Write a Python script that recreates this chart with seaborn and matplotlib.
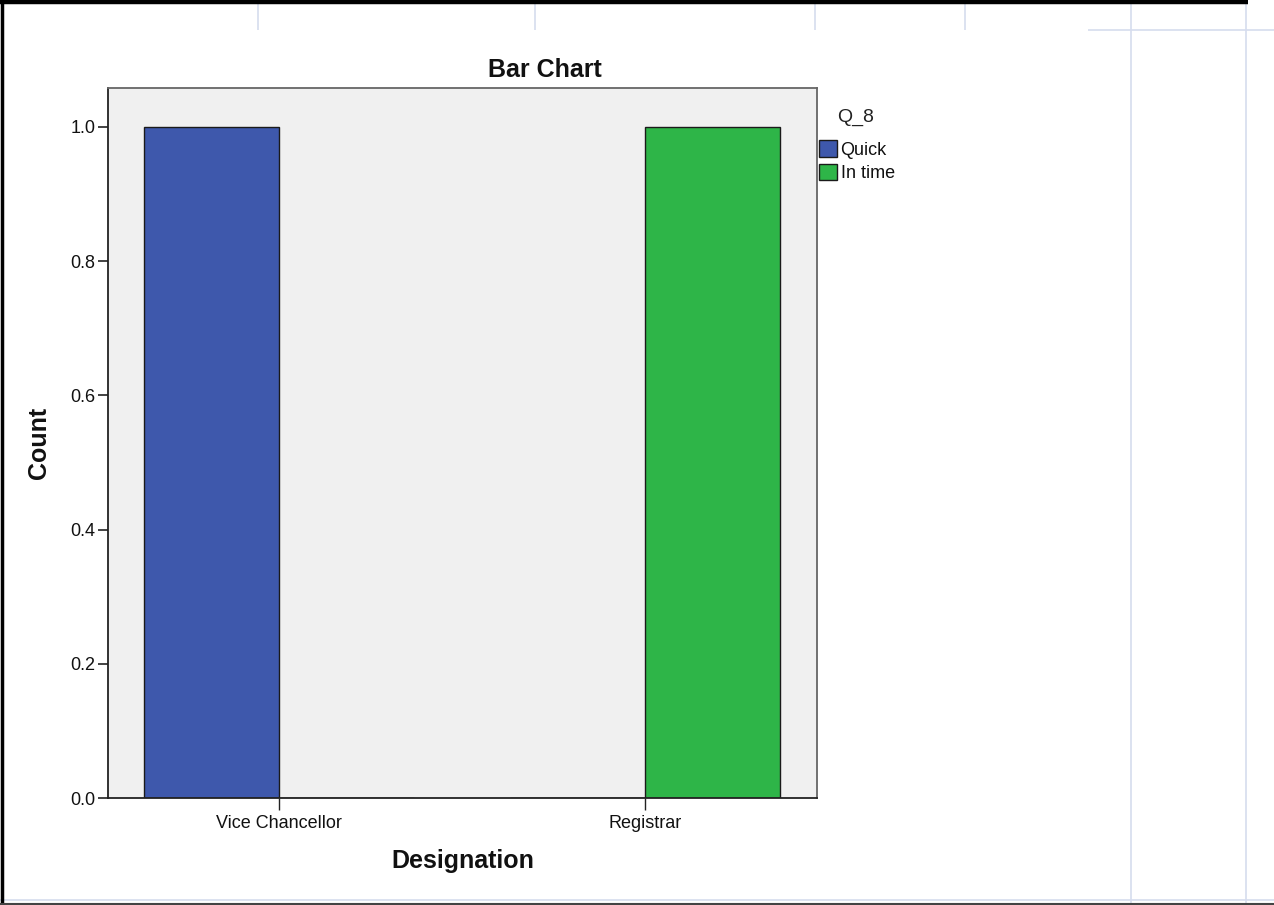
import matplotlib
matplotlib.use("Agg")
import matplotlib.pyplot as plt
import seaborn as sns
import pandas as pd
from matplotlib.lines import Line2D

designations = ["Vice Chancellor", "Registrar"]
q8_levels = ["Quick", "In time"]
quick_counts = [1, 0]
intime_counts = [0, 1]
y_ticks = [0.0, 0.2, 0.4, 0.6, 0.8, 1.0]

df = pd.DataFrame({
    "Designation": designations * 2,
    "Q_8": [q8_levels[0]] * 2 + [q8_levels[1]] * 2,
    "Count": quick_counts + intime_counts,
})

sns.set_theme(style="white")
plt.rcParams['font.family'] = ['Liberation Sans', 'DejaVu Sans']

W, H = 1274, 905
fig = plt.figure(figsize=(W / 100, H / 100), dpi=100)
fig.patch.set_facecolor("white")

ax = fig.add_axes([108 / W, 1 - 798 / H, (817 - 108) / W, (798 - 88) / H])
ax.set_facecolor("#F0F0F0")

palette = {"Quick": "#3E58AC", "In time": "#2EB548"}
sns.barplot(data=df, x="Designation", y="Count", hue="Q_8", order=designations,
            hue_order=q8_levels, palette=palette, width=0.738, edgecolor="#1a1a1a",
            linewidth=1.0, saturation=1, ax=ax)

ax.set_xlim(-0.467, 1.470)
ax.set_ylim(0, 1.058)
ax.set_yticks(y_ticks)
ax.set_yticklabels([f"{v:.1f}" for v in y_ticks], fontsize=13)
for t in ax.get_xticklabels():
    t.set_fontsize(13)
ax.tick_params(axis="y", direction="out", length=7.5, width=1.2, color="#222222", pad=1.5, labelcolor="#111111")
ax.tick_params(axis="x", direction="out", length=8.5, width=1.0, color="#222222", pad=4, labelcolor="#111111")
ax.tick_params(left=True, bottom=True)

for side, sp in ax.spines.items():
    sp.set_visible(True)
    sp.set_linewidth(1.3)
    sp.set_color("#666666" if side in ("top", "right") else "#222222")

ax.set_title("Bar Chart", fontsize=18, fontweight="bold", x=(545 - 108) / 709,
             y=(798 - 77) / 710, pad=0, va="baseline", color="#111111")
ax.set_xlabel("Designation", fontsize=18, fontweight="bold", color="#111111")
ax.set_ylabel("Count", fontsize=18, fontweight="bold", color="#111111")
ax.xaxis.set_label_coords(0.5, (798 - 848.5) / 710)
ax.yaxis.set_label_coords((51 - 108) / 709, 0.5)

handles, labels = ax.get_legend_handles_labels()
leg = ax.legend(handles, labels, title="Q_8", loc="upper left",
                bbox_to_anchor=(818.5 / W, 1 - 118.4 / H), bbox_transform=fig.transFigure,
                frameon=False, fontsize=13, title_fontsize=14,
                handlelength=1.0, handleheight=1.0, handletextpad=0.22,
                labelspacing=0.27, borderaxespad=0, borderpad=0)
leg._legend_box.align = "left"
for p in leg.get_patches():
    p.set_edgecolor("#1a1a1a")
    p.set_linewidth(1.0)
for t in leg.get_texts():
    t.set_color("#111111")
leg.get_title().set_color("#222222")
leg.get_title().set_position((18.5, 10))

def hline(y, x0, x1, color, lw):
    fig.add_artist(Line2D([x0 / W, x1 / W], [1 - y / H, 1 - y / H], color=color, lw=lw,
                          transform=fig.transFigure, solid_capstyle="butt"))

def vline(x, y0, y1, color, lw):
    fig.add_artist(Line2D([x / W, x / W], [1 - y0 / H, 1 - y1 / H], color=color, lw=lw,
                          transform=fig.transFigure, solid_capstyle="butt"))

grid_c = "#D6DDEE"
for xv in [258, 535, 815, 965]:
    vline(xv, 0, 30, grid_c, 1.2)
vline(1131, 0, 905, grid_c, 1.2)
vline(1246, 0, 905, grid_c, 1.2)
hline(30.5, 1088, 1274, grid_c, 1.2)
hline(900, 0, 1274, grid_c, 1.2)
hline(2, 0, 1248, "black", 3.2)
vline(2, 0, 905, "black", 2.5)
hline(904, 0, 1274, "#444444", 1.5)

fig.savefig("out.png", dpi=100, facecolor="white")
